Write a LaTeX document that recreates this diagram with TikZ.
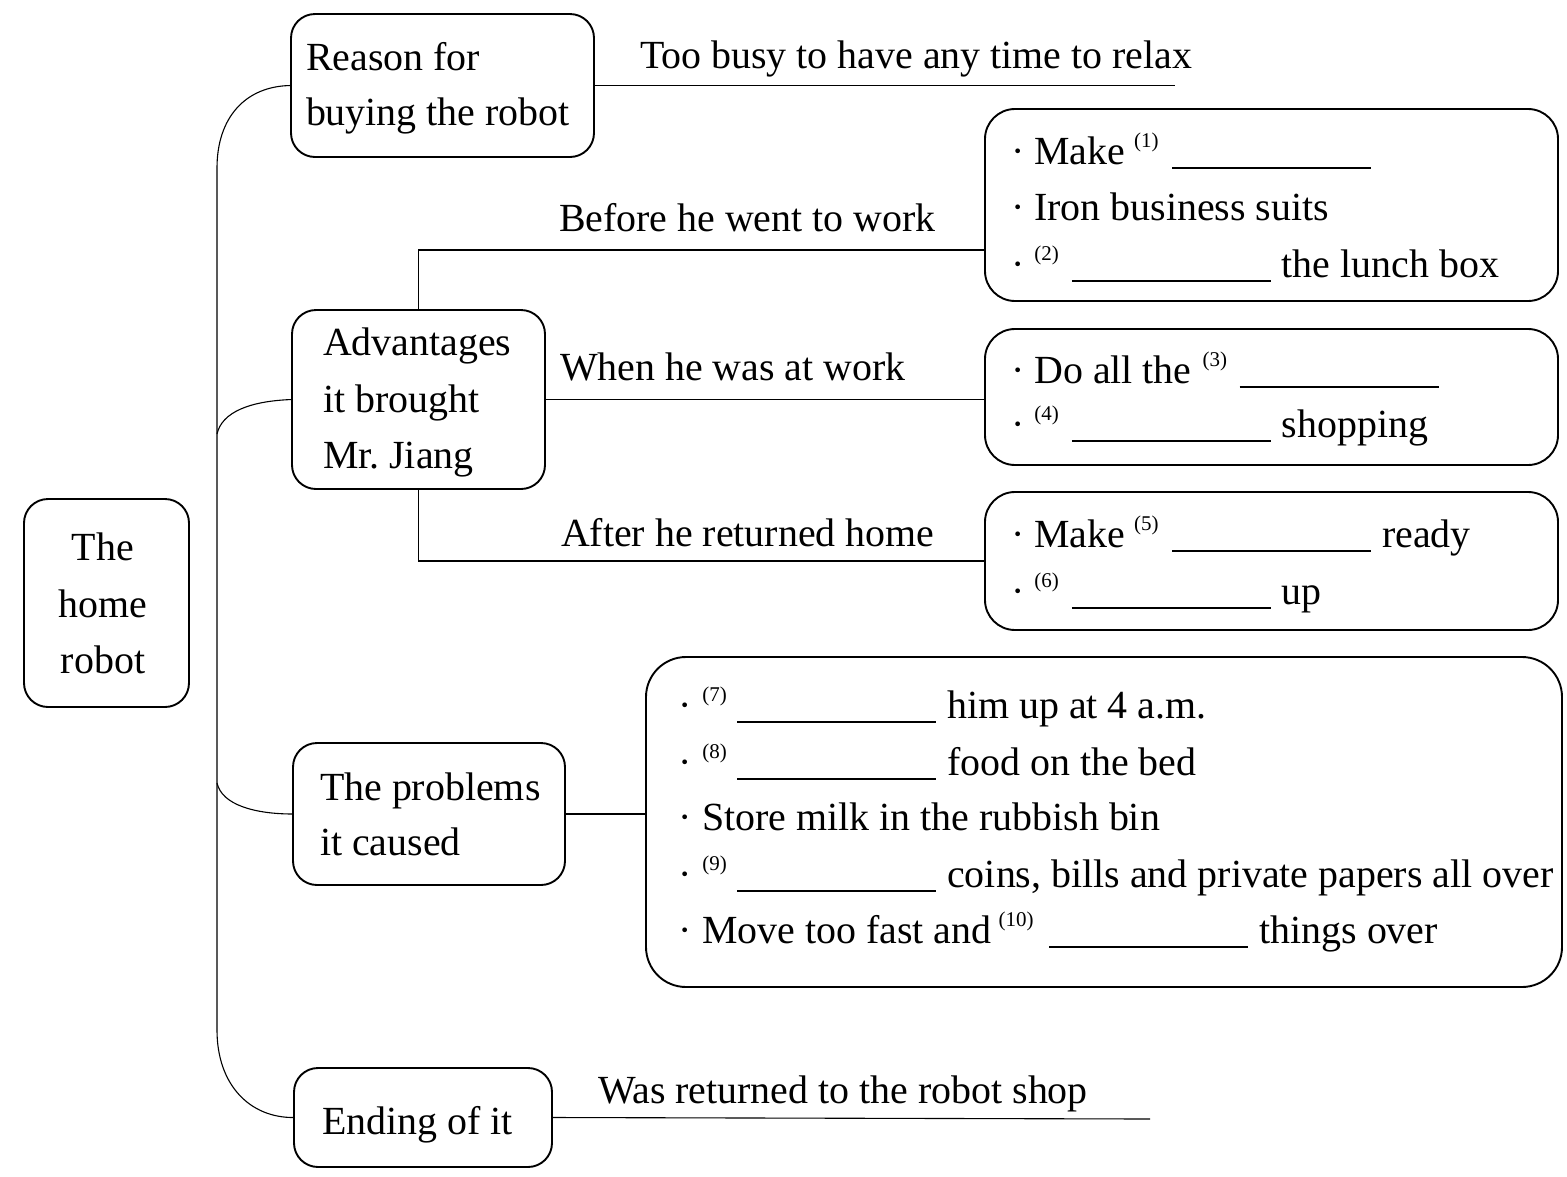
\documentclass[tikz,border=0pt]{standalone}
\usepackage{fontspec}
\setmainfont{Liberation Serif}
\newcommand\mfont{\fontsize{39.9}{47}\selectfont}
\newcommand\sn[1]{\raisebox{17pt}{\fontsize{21}{21}\selectfont(#1)}}
\newcommand\blk{\rule[-4.5pt]{199pt}{1.4pt}}
\newcommand\hs[1]{\hspace{#1pt}}
\tikzset{
  box/.style={draw, line width=1.9pt, rounded corners=24pt, inner sep=0pt, outer sep=0pt},
  bigbox/.style={box, rounded corners=40pt},
  conn/.style={line width=1.1pt},
  txt/.style={anchor=base west, inner sep=0pt, outer sep=0pt, font=\mfont},
  ctxt/.style={anchor=base, inner sep=0pt, outer sep=0pt, font=\mfont}
}
\begin{document}
\begin{tikzpicture}[x=1pt,y=-1pt]
\useasboundingbox[fill=white] (0,0) rectangle (1567,1176);
% boxes
\node[box, minimum width=165pt, minimum height=208pt] (root) at (106.5,603) {};
\node[box, minimum width=303pt, minimum height=143pt] (reason) at (442.5,85.5) {};
\node[box, minimum width=253pt, minimum height=179pt] (adv) at (418.5,399.5) {};
\node[box, minimum width=272pt, minimum height=142pt] (prob) at (429,814) {};
\node[box, minimum width=258pt, minimum height=99pt] (ending) at (423,1117.5) {};
\node[box, rounded corners=30pt, minimum width=573pt, minimum height=192pt] (b1) at (1271.5,205) {};
\node[box, rounded corners=30pt, minimum width=573pt, minimum height=136pt] (b2) at (1271.5,397) {};
\node[box, rounded corners=30pt, minimum width=573pt, minimum height=138pt] (b3) at (1271.5,561) {};
\node[bigbox, minimum width=916pt, minimum height=330pt] (b4) at (1104,822) {};
% free ends
\coordinate (tooEnd) at (1175,85.5);
\coordinate (b1in) at (985,250);
\coordinate (endEnd) at (1150,1119);
\coordinate (sA) at (217,434);
\coordinate (sP) at (217,783);
% connectors
\draw[conn] (reason.west) .. controls (245,86) and (217,118) .. (217,168) -- (217,1030) .. controls (217,1085) and (250,1118) .. (ending.west);
\draw[conn] (sA) .. controls (222,412) and (250,401) .. (adv.west);
\draw[conn] (sP) .. controls (222,805) and (255,814) .. (prob.west);
\draw[conn] (reason.east) -- (tooEnd);
\draw[conn] (adv.north) |- (b1in);
\draw[conn] (adv.east) -- (adv.east -| b2.west);
\draw[conn] (adv.south) |- (b3.west);
\draw[conn] (prob.east) -- (prob.east -| b4.west);
\draw[conn] (ending.east) -- (endEnd);
% box texts
\node[ctxt] (r1) at (103,560) {The};
\node[ctxt] (r2) at (103,617) {home};
\node[ctxt] (r3) at (103,673) {robot};
\node[txt] (re1) at (306,70) {Reason for};
\node[txt] (re2) at (306,125) {buying the robot};
\node[txt] (a1) at (323,355) {Advantages};
\node[txt] (a2) at (323,412) {it brought};
\node[txt] (a3) at (323,468) {Mr.\ Jiang};
\node[txt] (p1) at (320,800) {The problems};
\node[txt] (p2) at (320,855) {it caused};
\node[txt] (e1) at (322,1134) {Ending of it};
% line labels
\node[txt] (tb) at (640,68) {Too busy to have any time to relax};
\node[txt] (bw) at (559,231) {Before he went to work};
\node[txt] (ww) at (560,380) {When he was at work};
\node[txt] (ah) at (561,546) {After he returned home};
\node[txt] (wr) at (598,1103) {Was returned to the robot shop};
% box 1
\node[txt] (l11) at (1011,164) {·\hs{10}Make\hs{9}\sn{1}\hs{13.5}\blk};
\node[txt] (l12) at (1011,220) {·\hs{10}Iron business suits};
\node[txt] (l13) at (1011,277) {·\hs{10}\sn{2}\hs{13}\blk\hs{11}the lunch box};
% box 2
\node[txt] (l21) at (1011,383) {·\hs{10}Do all the\hs{11}\sn{3}\hs{12.5}\blk};
\node[txt] (l22) at (1011,437) {·\hs{10}\sn{4}\hs{13}\blk\hs{11}shopping};
% box 3
\node[txt] (l31) at (1011,547) {·\hs{10}Make\hs{9}\sn{5}\hs{13.5}\blk\hs{11}ready};
\node[txt] (l32) at (1011,604) {·\hs{10}\sn{6}\hs{13}\blk\hs{11}up};
% box 4
\node[txt] (l41) at (678,718) {·\hs{11}\sn{7}\hs{10.5}\blk\hs{11}him up at 4 a.m.};
\node[txt] (l42) at (678,775) {·\hs{11}\sn{8}\hs{10.5}\blk\hs{11}food on the bed};
\node[txt] (l43) at (678,830) {·\hs{11}Store milk in the rubbish bin};
\node[txt] (l44) at (678,887) {·\hs{11}\sn{9}\hs{10.5}\blk\hs{11}coins, bills and private papers all over};
\node[txt] (l45) at (678,943) {·\hs{11}Move too fast and\hs{7}\sn{10}\hs{16}\blk\hs{11}things over};
\end{tikzpicture}
\end{document}
